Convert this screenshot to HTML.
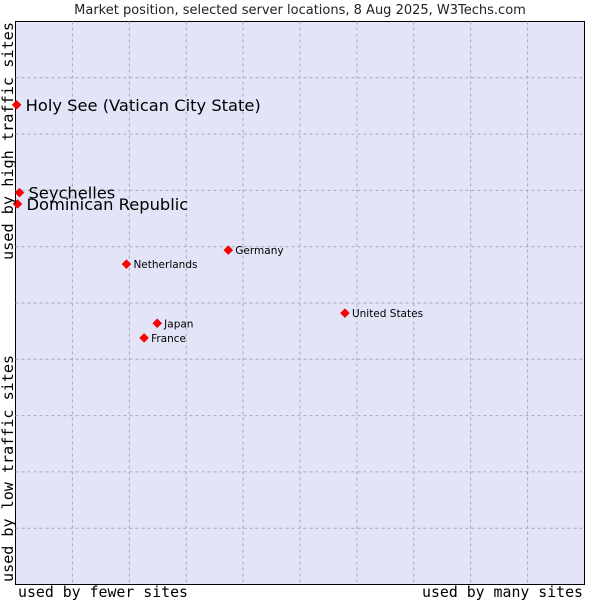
<!DOCTYPE html>
<html><head><meta charset="utf-8"><style>
body{margin:0;background:#fff;width:600px;height:600px;overflow:hidden}
svg{display:block}
</style></head><body>
<svg width="600" height="600">
<text x="300" y="14" text-anchor="middle" font-family="DejaVu Sans, sans-serif" font-size="13" fill="#222">Market position, selected server locations, 8 Aug 2025, W3Techs.com</text>
<rect x="15.5" y="21.5" width="569" height="563" fill="#e3e4f8" stroke="#000"/>
<g id="grid"></g>
<g id="pts"></g>
<text x="18" y="597" textLength="170" lengthAdjust="spacingAndGlyphs" font-family="DejaVu Sans Mono, monospace" font-size="15" fill="#000">used by fewer sites</text>
<text x="422" y="597" textLength="161" lengthAdjust="spacingAndGlyphs" font-family="DejaVu Sans Mono, monospace" font-size="15" fill="#000">used by many sites</text>
<text transform="translate(13,582) rotate(-90)" textLength="227" lengthAdjust="spacingAndGlyphs" font-family="DejaVu Sans Mono, monospace" font-size="15" fill="#000">used by low traffic sites</text>
<text transform="translate(13,260) rotate(-90)" textLength="238" lengthAdjust="spacingAndGlyphs" font-family="DejaVu Sans Mono, monospace" font-size="15" fill="#000">used by high traffic sites</text>
</svg>
<script>
const countries=["Holy See (Vatican City State)","Seychelles","Dominican Republic","Germany","Netherlands","United States","Japan","France"];
const xValues=[0.2,0.7,0.35,37.4,19.5,57.9,24.9,22.6];
const yValues=[85.2,69.6,67.6,59.4,56.9,48.2,46.4,43.8];
const bigLabel=[true,true,true,false,false,false,false,false];
const X0=15.5,X1=584.5,Y0=584.5,Y1=21.5;
const sx=v=>X0+(X1-X0)*v/100, sy=v=>Y0-(Y0-Y1)*v/100;
const NS="http://www.w3.org/2000/svg";
const grid=document.getElementById('grid');
for(let i=1;i<10;i++){
 const l=document.createElementNS(NS,'line');
 l.setAttribute('x1',sx(i*10));l.setAttribute('x2',sx(i*10));l.setAttribute('y1',Y1);l.setAttribute('y2',Y0);
 l.setAttribute('stroke','#aaa');l.setAttribute('stroke-dasharray','3,3');
 
 
 grid.appendChild(l);
 const h=document.createElementNS(NS,'line');
 h.setAttribute('y1',sy(i*10));h.setAttribute('y2',sy(i*10));h.setAttribute('x1',X0);h.setAttribute('x2',X1);
 h.setAttribute('stroke','#aaa');h.setAttribute('stroke-dasharray','3,3');
 
 
 grid.appendChild(h);
}
const pts=document.getElementById('pts');
countries.forEach((c,i)=>{
 const x=sx(xValues[i]),y=sy(yValues[i]);
 const d=document.createElementNS(NS,'path');
 d.setAttribute('d',`M${x-4.5},${y} L${x},${y-4.5} L${x+4.5},${y} L${x},${y+4.5} Z`);
 d.setAttribute('fill','#f00');d.setAttribute('stroke','#c00');d.setAttribute('stroke-width','0.5');
 
 
 pts.appendChild(d);
 const t=document.createElementNS(NS,'text');
 t.setAttribute('x',x+(bigLabel[i]?9:7));t.setAttribute('y',y+(bigLabel[i]?6:4));
 t.setAttribute('font-family','DejaVu Sans, sans-serif');
 t.setAttribute('font-size',bigLabel[i]?'16.3':'10.5');
 t.setAttribute('fill','#000');
 t.textContent=c;
 
 
 pts.appendChild(t);
});
</script>
</body></html>
